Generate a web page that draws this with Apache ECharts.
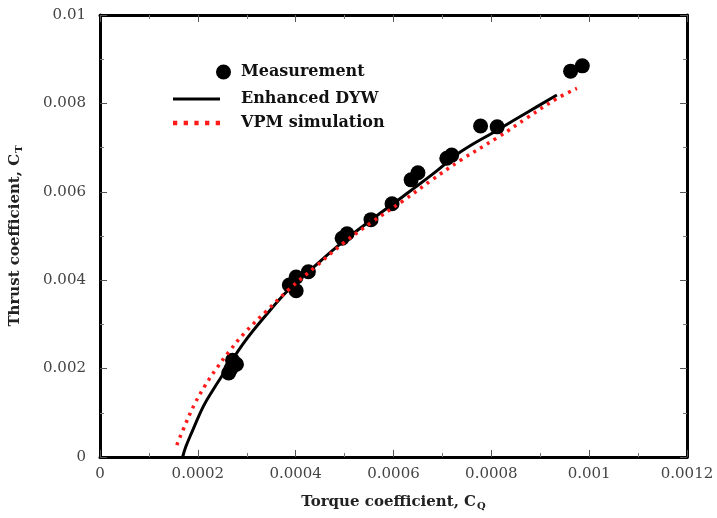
<!DOCTYPE html>
<html>
<head>
<meta charset="utf-8">
<script src="https://cdn.jsdelivr.net/npm/echarts@6/dist/echarts.min.js"></script>
<style>html,body{margin:0;padding:0;background:#fff;}#c{width:717px;height:518px;}</style>
</head>
<body>
<div id="c"></div>
<script>
// Measurement points [CQ, CT]
var measurement = [
  [0.000263, 0.0019], [0.000268, 0.0020], [0.000271, 0.00219], [0.000279, 0.0021],
  [0.000387, 0.00389], [0.000401, 0.00407], [0.000401, 0.00376], [0.000426, 0.00419],
  [0.000495, 0.00495], [0.000505, 0.00505],
  [0.000554, 0.00537], [0.000597, 0.00573],
  [0.000636, 0.00627], [0.00065, 0.00643],
  [0.000709, 0.00676], [0.000719, 0.00683],
  [0.000778, 0.00749], [0.000812, 0.00747],
  [0.000962, 0.00873], [0.000986, 0.00885]
];
// Enhanced DYW curve
var dyw = [
  [0.000169, 0], [0.000175, 0.00022], [0.000187, 0.00054], [0.000211, 0.00114],
  [0.00023, 0.0015], [0.000252, 0.00188], [0.000295, 0.0026], [0.00034, 0.00322],
  [0.000387, 0.0038], [0.000443, 0.00436], [0.0005, 0.0049], [0.000554, 0.00536],
  [0.00062, 0.0059], [0.00068, 0.0064], [0.000738, 0.00691], [0.000813, 0.0074],
  [0.000874, 0.0078], [0.000934, 0.00819]
];
// VPM simulation curve
var vpm = [
  [0.000157, 0.00027], [0.000175, 0.00075], [0.000194, 0.00121], [0.000215, 0.00162],
  [0.000238, 0.002], [0.000265, 0.0024], [0.000295, 0.0028], [0.00034, 0.0033],
  [0.000387, 0.0038], [0.000443, 0.00433], [0.0005, 0.00486], [0.000554, 0.0053],
  [0.00062, 0.0058], [0.00068, 0.00628], [0.000738, 0.00672], [0.000813, 0.00723],
  [0.000874, 0.00768], [0.000934, 0.00811], [0.000975, 0.00834]
];
var xTickLabels = ['0', '0.0002', '0.0004', '0.0006', '0.0008', '0.001', '0.0012'];
var yTickLabels = ['0', '0.002', '0.004', '0.006', '0.008', '0.01'];

var FONT = 'DejaVu Serif';
var chart = echarts.init(document.getElementById('c'), null, {renderer: 'canvas'});
function frameAxis(extra) {
  return Object.assign({
    axisLine: {show: true, onZero: false, lineStyle: {color: '#000', width: 3}},
    axisTick: {show: true, inside: true, length: 7, lineStyle: {color: '#555', width: 1}},
    minorTick: {show: true, splitNumber: 2, length: 4, lineStyle: {color: '#777', width: 1}},
    splitLine: {show: false}
  }, extra);
}
var titleStyle = {
  fontFamily: FONT, fontSize: 15, fontWeight: 'bold', color: '#222',
  rich: {sub: {fontFamily: FONT, fontSize: 10, fontWeight: 'bold', color: '#222', verticalAlign: 'bottom', padding: [7, 0, 0, 1]}}
};
var legendText = {fontFamily: FONT, fontSize: 16, fontWeight: 'bold', color: '#111'};
var option = {
  animation: false,
  backgroundColor: '#fff',
  grid: {left: 98, right: 30, top: 15, bottom: 61},
  xAxis: [
    frameAxis({
      type: 'value', min: 0, max: 0.0012, interval: 0.0002, position: 'bottom',
      axisLabel: {
        fontFamily: FONT, fontSize: 15, color: '#444', margin: 10,
        formatter: function (v) { return xTickLabels[Math.round(v / 0.0002)]; }
      },
      name: 'Torque coefficient, C{sub|Q}', nameLocation: 'middle', nameGap: 37,
      nameTextStyle: titleStyle
    }),
    frameAxis({type: 'value', min: 0, max: 0.0012, interval: 0.0002, position: 'top', axisLabel: {show: false}})
  ],
  yAxis: [
    frameAxis({
      type: 'value', min: 0, max: 0.01, interval: 0.002, position: 'left',
      axisLabel: {
        fontFamily: FONT, fontSize: 15, color: '#444', margin: 14,
        formatter: function (v) { return yTickLabels[Math.round(v / 0.002)]; }
      },
      name: 'Thrust coefficient, C{sub|T}', nameLocation: 'middle', nameGap: 76, nameRotate: 90,
      nameTextStyle: titleStyle
    }),
    frameAxis({type: 'value', min: 0, max: 0.01, interval: 0.002, position: 'right', axisLabel: {show: false}})
  ],
  legend: [
    {
      data: ['Measurement'], left: 211, top: 59, itemWidth: 15, itemHeight: 15, itemGap: 0,
      textStyle: Object.assign({padding: [0, 0, 0, 5]}, legendText)
    },
    {
      data: [
        {name: 'Enhanced DYW', icon: 'path://M0,0h47v3h-47z'},
        {name: 'VPM simulation', icon: 'path://M0,0h4v4h-4z M10,0h4v4h-4z M20,0h4v4h-4z M30,0h4v4h-4z M40,0h4v4h-4z'}
      ],
      orient: 'vertical', left: 168, top: 86,
      itemWidth: 47, itemHeight: 14, itemGap: 8,
      textStyle: Object.assign({padding: [0, 0, 0, 16]}, legendText)
    }
  ],
  series: [
    {
      name: 'Enhanced DYW', type: 'line', data: dyw, showSymbol: false, symbol: 'none', smooth: 0.4,
      lineStyle: {color: '#000', width: 3}, itemStyle: {color: '#000'}, z: 3
    },
    {
      name: 'VPM simulation', type: 'line', data: vpm, showSymbol: false, symbol: 'none', smooth: 0.4,
      lineStyle: {color: '#ff1a1a', width: 3.5, type: [3, 5]}, itemStyle: {color: '#ff1a1a'}, z: 4
    },
    {
      name: 'Measurement', type: 'scatter', data: measurement, symbol: 'circle', symbolSize: 15,
      itemStyle: {color: '#000', opacity: 1}, z: 2
    }
  ]
};
chart.setOption(option);
</script>
</body>
</html>
